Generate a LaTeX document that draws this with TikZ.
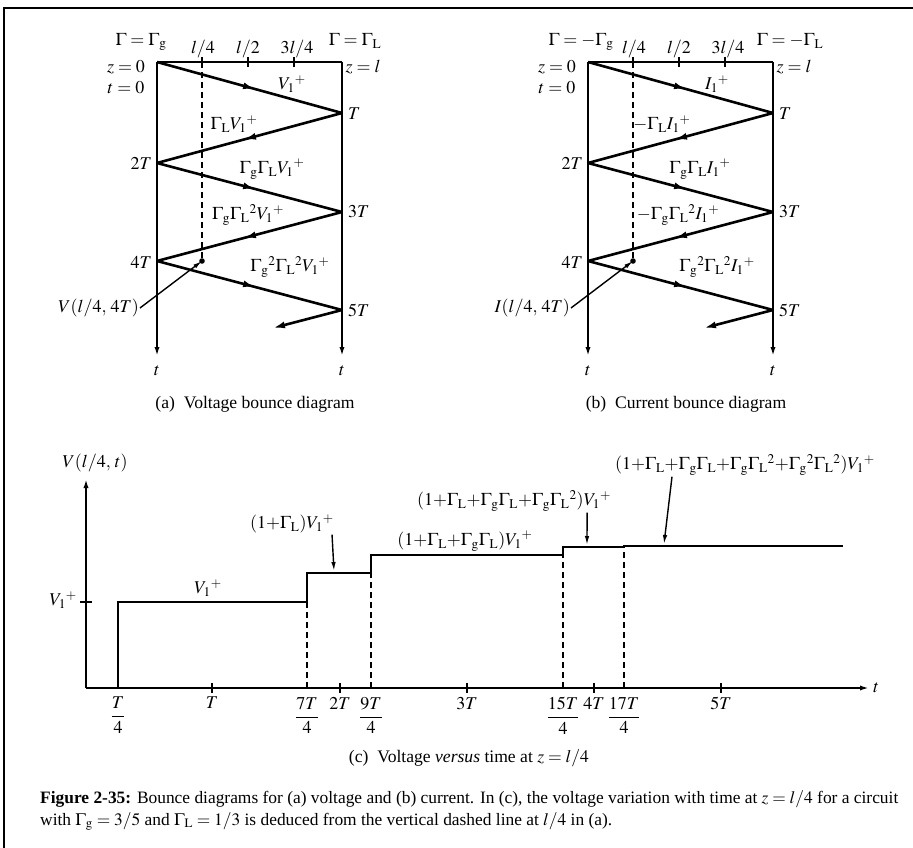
\documentclass[tikz,border=0pt]{standalone}
\usepackage{mathptmx}
\usepackage[no-math]{fontspec}
\setmainfont{Liberation Serif}
\usetikzlibrary{arrows.meta,decorations.markings}
\newcommand{\Gg}{\Gamma_{\mathrm{g}}}
\newcommand{\GL}{\Gamma_{\mathrm{L}}}
\newcommand{\Vp}{V_1{}^{+}}
\newcommand{\Ip}{I_1{}^{+}}

\begin{document}
\begin{tikzpicture}[x=1pt, y=-1pt, font=\fontsize{18}{21}\selectfont, >={Latex[length=10pt,width=5pt]}]
\tikzstyle{wire}=[line width=2pt]
\tikzstyle{zig}=[line width=2.6pt, postaction={decorate}, decoration={markings, mark=at position 0.53 with {\arrow{Latex[length=12pt,width=7pt]}}}]
\tikzstyle{probe}=[line width=1.6pt, dash pattern=on 6pt off 4pt]
\tikzstyle{lead}=[line width=1.4pt, -{Latex[length=9pt,width=4.5pt]}]
\tikzstyle{lbl}=[inner sep=1pt]
\tikzstyle{subcap}=[font=\fontsize{17.6}{21}\selectfont]
\useasboundingbox (0,0) rectangle (913,848);
\draw[line width=1.4pt] (4,848) -- (4,8) -- (913,8);

% bounce diagrams (a) and (b)
\foreach \p/\dx in {a/0,b/431}{
  \coordinate (\p0) at (157+\dx,62);
  \coordinate (\p1) at (342+\dx,113);
  \coordinate (\p2) at (157+\dx,163);
  \coordinate (\p3) at (342+\dx,212);
  \coordinate (\p4) at (157+\dx,261);
  \coordinate (\p5) at (342+\dx,310);
  \coordinate (\p6) at (273+\dx,328);
  \coordinate (\p-tr) at (342+\dx,62);
  \coordinate (\p-bl) at (157+\dx,357);
  \coordinate (\p-br) at (342+\dx,357);
  \coordinate (\p-q) at (202+\dx,62);
  \coordinate (\p-dot) at (202+\dx,261);
  \draw[wire] (\p0) -- (\p-tr);
  \draw[wire,->] (\p0) -- (\p-bl);
  \draw[wire,->] (\p-tr) -- (\p-br);
  \foreach \k in {202,248,294} \draw[wire] (\k+\dx,57) -- (\k+\dx,67);
  \draw[probe] (\p-q) -- (\p-dot);
  \fill (\p-dot) circle (2.8);
  \foreach \i [count=\j] in {0,...,4} \draw[zig] (\p\i) -- (\p\j);
  \draw[line width=2.6pt, -{Latex[length=12pt,width=7pt]}] (\p5) -- (\p6);
  % labels shared by both
  \node[lbl] (\p-q1) at (203+\dx,49) {$l/4$};
  \node[lbl] (\p-q2) at (248+\dx,49) {$l/2$};
  \node[lbl] (\p-q3) at (297+\dx,49) {$3l/4$};
  \node[lbl] (\p-z0) at (126+\dx,67) {$z=0$};
  \node[lbl] (\p-t0) at (126+\dx,88) {$t=0$};
  \node[lbl] (\p-zl) at (363+\dx,67) {$z=l$};
  \node[lbl, anchor=west] (\p-T1) at (347+\dx,114) {$T$};
  \node[lbl, anchor=east] (\p-T2) at (153+\dx,163) {$2T$};
  \node[lbl, anchor=west] (\p-T3) at (347+\dx,212) {$3T$};
  \node[lbl, anchor=east] (\p-T4) at (153+\dx,262) {$4T$};
  \node[lbl, anchor=west] (\p-T5) at (347+\dx,310) {$5T$};
  \node[lbl] (\p-ta) at (157+\dx,371) {$t$};
  \node[lbl] (\p-tb) at (342+\dx,371) {$t$};
}

% (a) voltage
\node[lbl] (a-g) at (141,42) {$\Gamma=\Gg$};
\node[lbl] (a-L) at (355,41) {$\Gamma=\GL$};
\node[lbl] (a-w1) at (292,84) {$\Vp$};
\node[lbl] (a-w2) at (234,124) {$\GL\Vp$};
\node[lbl] (a-w3) at (272,169) {$\Gg\GL\Vp$};
\node[lbl] (a-w4) at (248,215) {$\Gg\GL{}^{2}\Vp$};
\node[lbl] (a-w5) at (290,267) {$\Gg{}^{2}\GL{}^{2}\Vp$};
\node[lbl, anchor=east] (a-probe) at (140,308) {$V(l/4,\,4T)$};
\draw[lead] (a-probe.east) -- (a-dot);
\node[subcap] (capa) at (255,404) {(a)\enspace Voltage bounce diagram};

% (b) current
\node[lbl] (b-g) at (581,42) {$\Gamma=-\Gg$};
\node[lbl] (b-L) at (790,41) {$\Gamma=-\GL$};
\node[lbl] (b-w1) at (717,84) {$\Ip$};
\node[lbl] (b-w2) at (662,124) {$-\GL\Ip$};
\node[lbl] (b-w3) at (700,169) {$\Gg\GL\Ip$};
\node[lbl] (b-w4) at (678,215) {$-\Gg\GL{}^{2}\Ip$};
\node[lbl] (b-w5) at (717,267) {$\Gg{}^{2}\GL{}^{2}\Ip$};
\node[lbl, anchor=east] (b-probe) at (571,308) {$I(l/4,\,4T)$};
\draw[lead] (b-probe.east) -- (b-dot);
\node[subcap] (capb) at (686,404) {(b)\enspace Current bounce diagram};

% (c) voltage versus time
\coordinate (o) at (86,688);
\coordinate (ytop) at (86,478);
\coordinate (xend) at (870,688);
\draw[wire,->] (o) -- (ytop);
\draw[wire,->] (o) -- (xend);
\node[lbl] (vlab) at (95,463) {$V(l/4,\,t)$};
\node[lbl, anchor=west] (tlab) at (872,688) {$t$};
\draw[wire] (80,602) -- (92,602);
\node[lbl, anchor=east] (v1) at (78,600) {$\Vp$};
\draw[line width=2.4pt] (118,688) -- (118,602) -- (307,602) -- (307,573) -- (371,573) -- (371,555) -- (563,555) -- (563,547) -- (624,547) -- (624,546) -- (843,546);
\foreach \x/\y in {307/602,371/573,563/555,624/547} \draw[probe] (\x,688) -- (\x,\y);
\foreach \x/\t in {212/T,340/2T,467/3T,594/4T,721/5T}{
  \draw[wire] (\x,683) -- (\x,693);
  \node[lbl, anchor=north] (tick\t) at (\x,696) {$\t$};
}
\foreach \x/\n in {118/,307/7,371/9,563/15,624/17}
  \node[lbl, anchor=north] (frac\n) at (\x,696) {$\displaystyle\frac{\n T}{4}$};
\node[lbl] (c1) at (208,588) {$\Vp$};
\node[lbl] (c2) at (292,524) {$(1{+}\GL)\Vp$};
\node[lbl] (c3) at (465,541) {$(1{+}\GL{+}\Gg\GL)\Vp$};
\node[lbl] (c4) at (514,501) {$(1{+}\GL{+}\Gg\GL{+}\Gg\GL{}^{2})\Vp$};
\node[lbl] (c5) at (745,465) {$(1{+}\GL{+}\Gg\GL{+}\Gg\GL{}^{2}{+}\Gg{}^{2}\GL{}^{2})\Vp$};
\coordinate (c2tip) at (334,571);
\coordinate (c4tip) at (587,545);
\coordinate (c5tip) at (664,544);
\draw[lead] ([xshift=-3pt]c2.south east) -- (c2tip);
\draw[lead] ([xshift=-25pt]c4.south east) -- (c4tip);
\draw[lead] ([xshift=58pt]c5.south west) -- (c5tip);
\node[subcap] (capc) at (469,758) {(c)\enspace Voltage \textit{versus} time at $z=l/4$};

% caption
\node[anchor=north west, align=left, inner sep=0pt, font=\fontsize{17.4}{22}\selectfont] (figcap) at (40,790)
  {\textbf{Figure 2-35:} Bounce diagrams for (a) voltage and (b) current. In (c), the voltage variation with time at $z=l/4$ for a circuit\\
   with $\Gg=3/5$ and $\GL=1/3$ is deduced from the vertical dashed line at $l/4$ in (a).};
\end{tikzpicture}
\end{document}
